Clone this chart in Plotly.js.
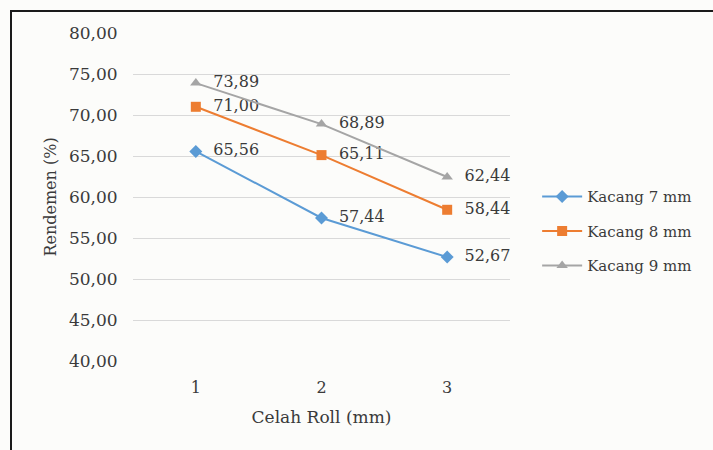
<!DOCTYPE html>
<html>
<head>
<meta charset="utf-8">
<script src="https://cdn.plot.ly/plotly-3.0.1.min.js"></script>
<style>
html,body{margin:0;padding:0;background:#fcfcfa;}
#wrap{position:relative;width:713px;height:450px;overflow:hidden;}
#chart{width:713px;height:450px;}
#frame{position:absolute;left:10px;top:10px;width:730px;height:470px;border:2px solid #1a1a1a;pointer-events:none;}
</style>
</head>
<body>
<div id="wrap"><div id="chart"></div><div id="frame"></div></div>
<script>
const categories = ['1', '2', '3'];
const seriesNames = ['Kacang 7 mm', 'Kacang 8 mm', 'Kacang 9 mm'];
const kacang7 = [65.56, 57.44, 52.67];
const kacang8 = [71.00, 65.11, 58.44];
const kacang9 = [73.89, 68.89, 62.44];
const yTicks = [40, 45, 50, 55, 60, 65, 70, 75, 80];

const colors = ['#5b9bd5', '#ed7d31', '#a5a5a5'];
const symbols = ['diamond', 'square', 'triangle-up'];
const allSeries = [kacang7, kacang8, kacang9];
const fmt = v => v.toFixed(2).replace('.', ',');
const font = 'DejaVu Serif';
const fs = 16;
const tc = '#3a3a3a';

const traces = allSeries.map((vals, i) => ({
  type: 'scatter',
  mode: 'lines+markers+text',
  name: seriesNames[i],
  legendgroup: 'g' + i,
  x: categories,
  y: vals,
  text: vals.map(v => '  ' + fmt(v)),
  textposition: 'middle right',
  textfont: {family: font, size: fs, color: tc},
  line: {color: colors[i], width: 2},
  marker: {color: colors[i], symbol: symbols[i], size: 10},
  cliponaxis: false
}));

const layout = {
  width: 713, height: 450,
  margin: {l: 133, r: 203, t: 33, b: 89},
  paper_bgcolor: 'rgba(0,0,0,0)',
  plot_bgcolor: 'rgba(0,0,0,0)',
  separators: ',.',
  font: {family: font, size: fs, color: tc},
  showlegend: true,
  legend: {
    x: 1.072, y: 0.551, xanchor: 'left', yanchor: 'top',
    traceorder: 'grouped', tracegroupgap: 12,
    font: {family: font, size: 15, color: tc},
    bgcolor: 'rgba(0,0,0,0)', itemwidth: 40
  },
  xaxis: {
    type: 'category',
    range: [-0.5, 2.5],
    showgrid: false, zeroline: false, showline: false,
    ticks: 'outside', ticklen: 12, tickcolor: 'rgba(0,0,0,0)',
    tickfont: {family: font, size: fs, color: tc},
    title: {text: 'Celah Roll (mm)', font: {family: font, size: 17, color: tc}, standoff: 14}
  },
  yaxis: {
    range: [40, 80],
    tickvals: yTicks,
    tickformat: '.2f',
    showgrid: true, gridcolor: '#d9d9d9', gridwidth: 1,
    zeroline: false, showline: false,
    ticks: 'outside', ticklen: 11, tickcolor: 'rgba(0,0,0,0)',
    tickfont: {family: font, size: 17, color: tc},
    title: {text: 'Rendemen (%)', font: {family: font, size: 16, color: tc}, standoff: 8}
  }
};

Plotly.newPlot('chart', traces, layout, {staticPlot: true});
</script>
</body>
</html>
